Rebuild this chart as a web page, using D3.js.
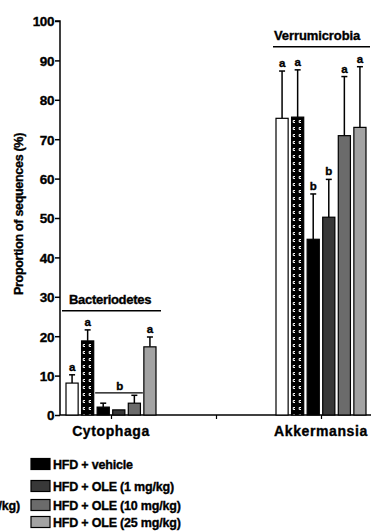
<!DOCTYPE html>
<html>
<head>
<meta charset="utf-8">
<script src="https://cdn.jsdelivr.net/npm/d3@7"></script>
<style>
  body { margin: 0; background: #fff; }
  svg { display: block; font-family: "Liberation Sans", Arial, sans-serif; font-weight: bold; }
  svg text { stroke: #000; stroke-width: 0.35px; }
</style>
</head>
<body>
<svg id="chart" width="371" height="531"></svg>
<script>
// data
const categories = ['Cytophaga', '', 'Akkermansia'];
const seriesNames = [
  'Standard diet',
  'Standard diet + OLE (25 mg/kg)',
  'HFD + vehicle',
  'HFD + OLE (1 mg/kg)',
  'HFD + OLE (10 mg/kg)',
  'HFD + OLE (25 mg/kg)'
];
const cytophagaMeans = [8.1, 18.8, 2.0, 1.3, 3.0, 17.3];
const cytophagaErrors = [2.1, 2.8, 1.0, 0, 2.0, 2.5];
const cytophagaLetters = ['a', 'a', '', '', '', 'a'];
const akkermansiaMeans = [75.3, 75.6, 44.6, 50.2, 70.9, 73.0];
const akkermansiaErrors = [12.0, 12.0, 11.5, 9.6, 15.0, 15.4];
const akkermansiaLetters = ['a', 'a', 'b', 'b', 'a', 'a'];
const yTicks = [0, 10, 20, 30, 40, 50, 60, 70, 80, 90, 100];
const phylumLabels = [
  { name: 'Bacteriodetes', category: 'Cytophaga', level: 29 },
  { name: 'Verrumicrobia', category: 'Akkermansia', level: 96 }
];

const fills = ['#fff', 'url(#checker)', '#000', '#383838', '#6b6b6b', '#a3a3a3'];

const svg = d3.select('#chart');
const defs = svg.append('defs');
const pat = defs.append('pattern')
  .attr('id', 'checker')
  .attr('patternUnits', 'userSpaceOnUse')
  .attr('width', 6).attr('height', 7);
pat.append('rect').attr('width', 6).attr('height', 7).attr('fill', '#000');
pat.append('path')
  .attr('d', 'M4,1.5 L2.2,1.5 L2.2,3.5 L4,3.5')
  .attr('fill', 'none').attr('stroke', '#fff').attr('stroke-width', 1);

const y = d3.scaleLinear().domain([0, 100]).range([415, 21]);
const x = d3.scalePoint().domain(categories).range([111, 321]);
const xs = d3.scaleBand().domain(d3.range(6)).range([-45, 45]).paddingInner(0.22);

// y axis
const yAxis = svg.append('g')
  .attr('transform', 'translate(60,0)')
  .call(d3.axisLeft(y).tickValues(yTicks).tickSize(5).tickPadding(1));
yAxis.select('.domain').attr('stroke-width', 1.5).attr('d', `M-5,${y(100)}H0V${y(0)}`);
yAxis.selectAll('.tick line').attr('stroke-width', 1.5);
yAxis.selectAll('.tick text')
  .attr('font-size', 13.5).attr('font-weight', 'bold').attr('fill', '#000')
  .attr('dy', '0.36em')
  .attr('letter-spacing', -0.4).attr('font-family', '"Liberation Sans", Arial, sans-serif');

svg.append('text')
  .attr('transform', `translate(23,214) rotate(-90)`)
  .attr('text-anchor', 'middle')
  .attr('font-size', 12.5)
  .attr('letter-spacing', -0.3)
  .text('Proportion of sequences (%)');

// x axis
const xAxis = svg.append('g')
  .attr('transform', `translate(0,${y(0)})`)
  .call(d3.axisBottom(x).tickSize(4).tickFormat(''));
xAxis.select('.domain').attr('stroke-width', 1.5).attr('d', 'M60,0H371');
xAxis.selectAll('.tick line').attr('stroke-width', 1.2);

svg.selectAll('.xlabel')
  .data(categories.filter(d => d))
  .join('text')
  .attr('class', 'xlabel')
  .attr('x', d => x(d))
  .attr('y', 436)
  .attr('text-anchor', 'middle')
  .attr('font-size', 14)
  .attr('letter-spacing', 0.6)
  .text(d => d);

// bars
const groups = [
  { category: 'Cytophaga', means: cytophagaMeans, errors: cytophagaErrors, letters: cytophagaLetters },
  { category: 'Akkermansia', means: akkermansiaMeans, errors: akkermansiaErrors, letters: akkermansiaLetters }
];

groups.forEach(g => {
  const cx = x(g.category);
  const rows = g.means.map((m, i) => ({ i, m, e: g.errors[i], l: g.letters[i] }));
  const gg = svg.append('g').attr('transform', `translate(${cx},0)`);

  gg.selectAll('.err')
    .data(rows.filter(r => r.e > 0))
    .join('g')
    .each(function (r) {
      const bx = xs(r.i) + xs.bandwidth() / 2;
      const s = d3.select(this);
      s.append('line').attr('x1', bx).attr('x2', bx)
        .attr('y1', y(r.m)).attr('y2', y(r.m + r.e))
        .attr('stroke', '#000').attr('stroke-width', 1.5);
      s.append('line').attr('x1', bx - 3).attr('x2', bx + 3)
        .attr('y1', y(r.m + r.e)).attr('y2', y(r.m + r.e))
        .attr('stroke', '#000').attr('stroke-width', 1.5);
    });

  gg.selectAll('rect')
    .data(rows)
    .join('rect')
    .attr('x', r => xs(r.i))
    .attr('width', xs.bandwidth())
    .attr('y', r => y(r.m))
    .attr('height', r => y(0) - y(r.m))
    .attr('fill', r => fills[r.i])
    .attr('stroke', '#000')
    .attr('stroke-width', 1.2);

  gg.selectAll('.letter')
    .data(rows.filter(r => r.l))
    .join('text')
    .attr('class', 'letter')
    .attr('x', r => xs(r.i) + xs.bandwidth() / 2)
    .attr('y', r => y(r.m + r.e) - 4)
    .attr('text-anchor', 'middle')
    .attr('font-size', 11.5)
    .text(r => r.l);
});

// bracket "b" over the HFD bars in Cytophaga
const cyto = x('Cytophaga');
const bracketY = y(5.6);
svg.append('line')
  .attr('x1', cyto + xs(2) - 2).attr('x2', cyto + xs(5) - 1)
  .attr('y1', bracketY).attr('y2', bracketY)
  .attr('stroke', '#000').attr('stroke-width', 1.3);
svg.append('text')
  .attr('x', cyto + xs(3) + xs.bandwidth() / 2 + 1)
  .attr('y', bracketY - 3)
  .attr('text-anchor', 'middle')
  .attr('font-size', 11.5)
  .text('b');

// phylum labels with underline
phylumLabels.forEach(p => {
  const isV = p.name === 'Verrumicrobia';
  const left = x(p.category) - 48;
  svg.append('text')
    .attr('x', isV ? left + 1 : left + 6)
    .attr('y', y(p.level) + 3)
    .attr('font-size', 13)
    .attr('letter-spacing', isV ? -0.1 : -0.3)
    .text(p.name);
  const x0 = isV ? left : left - 1;
  const x1 = isV ? 370 : left + 98;
  svg.append('line')
    .attr('x1', x0).attr('x2', x1)
    .attr('y1', y(p.level) + 10).attr('y2', y(p.level) + 10)
    .attr('stroke', '#000').attr('stroke-width', 1.5);
});

// legend
const rowY = [464, 486, 505, 522];
const legendItems = [
  { i: 2, col: 1, row: 0 },
  { i: 3, col: 1, row: 1 },
  { i: 4, col: 1, row: 2 },
  { i: 5, col: 1, row: 3 },
  { i: 0, col: 0, row: 1 },
  { i: 1, col: 0, row: 2 }
];
const leg = svg.append('g');
// right column
legendItems.filter(d => d.col === 1).forEach(d => {
  leg.append('rect')
    .attr('x', 31).attr('y', rowY[d.row] - 5.5)
    .attr('width', 19).attr('height', 11)
    .attr('fill', fills[d.i]).attr('stroke', '#000').attr('stroke-width', 1.2);
  leg.append('text')
    .attr('x', 53).attr('y', rowY[d.row] + 4.5)
    .attr('font-size', 12.5).attr('letter-spacing', -0.2)
    .text(seriesNames[d.i]);
});
// left column (mostly outside the frame)
const leftItems = legendItems.filter(d => d.col === 0);
const leftTexts = leftItems.map(d => leg.append('text')
  .attr('y', rowY[d.row] + 4.5)
  .attr('font-size', 12.5).attr('letter-spacing', -0.2)
  .text(seriesNames[d.i]));
const longest = d3.max(leftTexts, t => t.node().getComputedTextLength());
const leftStart = 20 - longest;
leftTexts.forEach((t, k) => {
  t.attr('x', leftStart);
  leg.append('rect')
    .attr('x', leftStart - 22).attr('y', rowY[leftItems[k].row] - 5.5)
    .attr('width', 19).attr('height', 11)
    .attr('fill', fills[leftItems[k].i]).attr('stroke', '#000').attr('stroke-width', 1.2);
});
</script>
</body>
</html>
